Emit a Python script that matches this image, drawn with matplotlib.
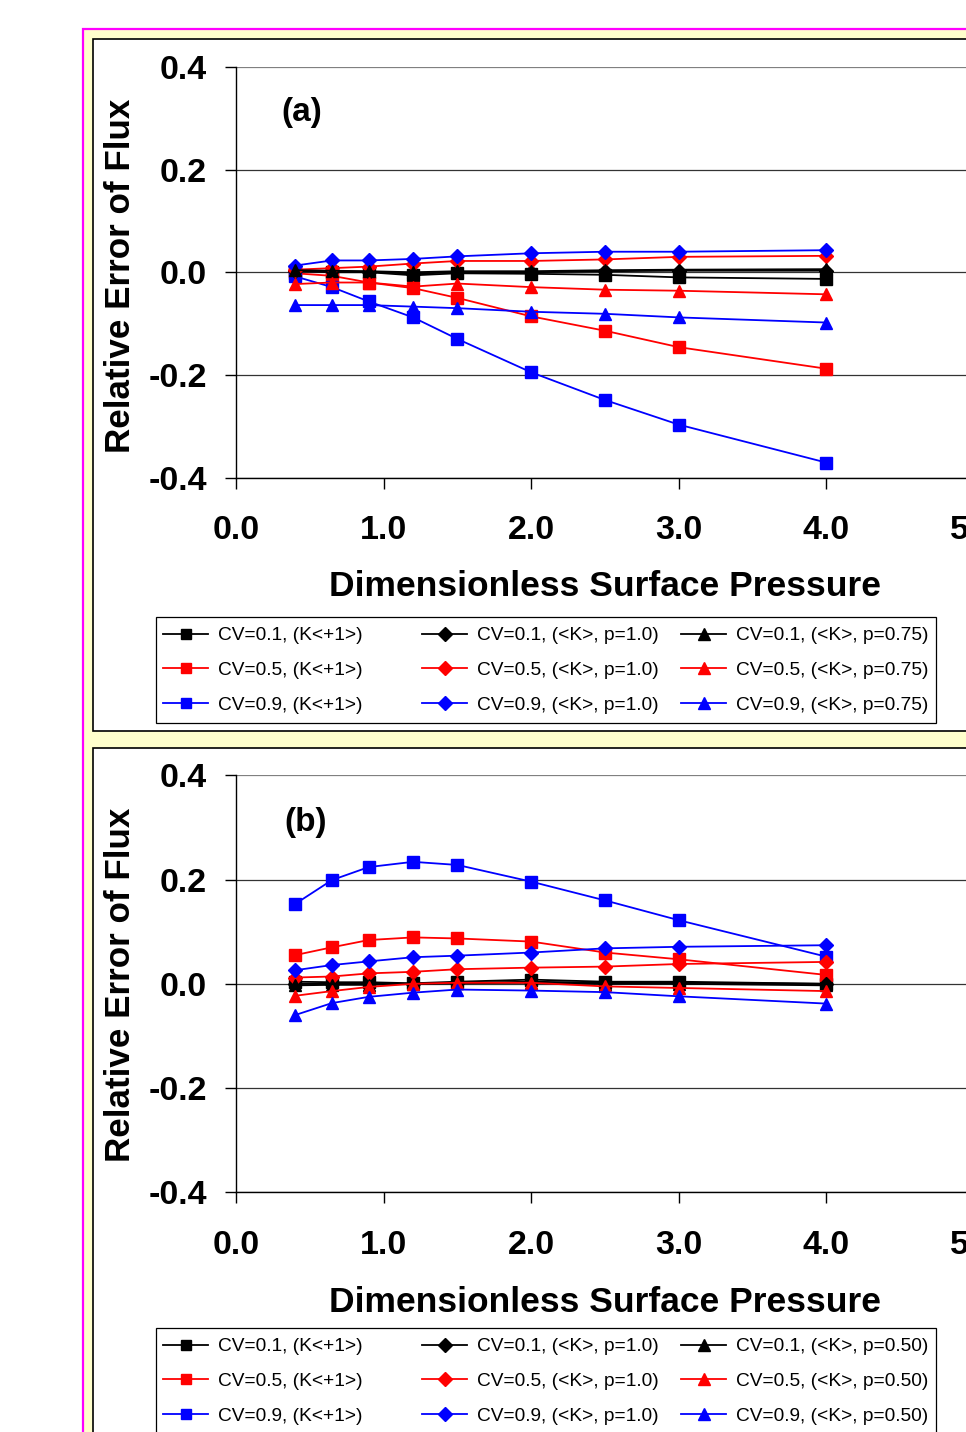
import matplotlib
matplotlib.use("Agg")
import matplotlib.pyplot as plt
from matplotlib.patches import Rectangle

plt.rcParams['font.family'] = ['Liberation Sans', 'DejaVu Sans']

# ---------------- data ----------------
pressure = [0.4, 0.65, 0.9, 1.2, 1.5, 2.0, 2.5, 3.0, 4.0]
x_ticks = [0.0, 1.0, 2.0, 3.0, 4.0, 5.0]
x_tick_labels = ["0.0", "1.0", "2.0", "3.0", "4.0", "5.0"]
y_ticks = [-0.4, -0.2, 0.0, 0.2, 0.4]
y_tick_labels = ["-0.4", "-0.2", "0.0", "0.2", "0.4"]

# Panel (a)
a_cv01_k1 = [0.002, 0.000, 0.000, -0.006, -0.002, -0.003, -0.005, -0.010, -0.013]
a_cv05_k1 = [-0.002, -0.007, -0.020, -0.031, -0.050, -0.086, -0.114, -0.146, -0.188]
a_cv09_k1 = [-0.008, -0.029, -0.057, -0.088, -0.130, -0.195, -0.249, -0.297, -0.371]
a_cv01_p10 = [0.003, 0.002, 0.001, -0.003, 0.000, 0.000, 0.002, 0.003, 0.003]
a_cv05_p10 = [0.005, 0.008, 0.011, 0.017, 0.022, 0.022, 0.025, 0.030, 0.032]
a_cv09_p10 = [0.013, 0.023, 0.023, 0.026, 0.031, 0.037, 0.040, 0.040, 0.043]
a_cv01_p075 = [0.004, 0.003, 0.002, 0.000, 0.002, 0.002, 0.004, 0.005, 0.006]
a_cv05_p075 = [-0.023, -0.020, -0.020, -0.028, -0.022, -0.029, -0.034, -0.036, -0.043]
a_cv09_p075 = [-0.064, -0.064, -0.064, -0.067, -0.070, -0.077, -0.081, -0.088, -0.098]

# Panel (b)
b_cv01_k1 = [0.004, 0.003, 0.003, 0.001, 0.004, 0.008, 0.004, 0.004, 0.000]
b_cv05_k1 = [0.055, 0.070, 0.084, 0.089, 0.087, 0.081, 0.060, 0.047, 0.017]
b_cv09_k1 = [0.153, 0.199, 0.224, 0.234, 0.228, 0.196, 0.160, 0.122, 0.052]
b_cv01_p10 = [0.000, 0.000, 0.001, 0.000, 0.002, 0.004, 0.002, 0.002, 0.000]
b_cv05_p10 = [0.012, 0.014, 0.020, 0.023, 0.028, 0.031, 0.033, 0.038, 0.042]
b_cv09_p10 = [0.026, 0.036, 0.043, 0.051, 0.054, 0.060, 0.068, 0.071, 0.074]
b_cv01_p050 = [-0.003, -0.002, -0.002, 0.000, 0.001, 0.002, 0.000, 0.000, -0.003]
b_cv05_p050 = [-0.023, -0.014, -0.006, 0.000, 0.002, 0.002, -0.005, -0.008, -0.014]
b_cv09_p050 = [-0.060, -0.037, -0.025, -0.017, -0.011, -0.013, -0.016, -0.024, -0.038]

labels_a = ["CV=0.1, (K<+1>)", "CV=0.5, (K<+1>)", "CV=0.9, (K<+1>)",
            "CV=0.1, (<K>, p=1.0)", "CV=0.5, (<K>, p=1.0)", "CV=0.9, (<K>, p=1.0)",
            "CV=0.1, (<K>, p=0.75)", "CV=0.5, (<K>, p=0.75)", "CV=0.9, (<K>, p=0.75)"]
labels_b = ["CV=0.1, (K<+1>)", "CV=0.5, (K<+1>)", "CV=0.9, (K<+1>)",
            "CV=0.1, (<K>, p=1.0)", "CV=0.5, (<K>, p=1.0)", "CV=0.9, (<K>, p=1.0)",
            "CV=0.1, (<K>, p=0.50)", "CV=0.5, (<K>, p=0.50)", "CV=0.9, (<K>, p=0.50)"]

series_a = [a_cv01_k1, a_cv05_k1, a_cv09_k1, a_cv01_p10, a_cv05_p10, a_cv09_p10,
            a_cv01_p075, a_cv05_p075, a_cv09_p075]
series_b = [b_cv01_k1, b_cv05_k1, b_cv09_k1, b_cv01_p10, b_cv05_p10, b_cv09_p10,
            b_cv01_p050, b_cv05_p050, b_cv09_p050]

colors = ["#000000", "#FF0000", "#0000FF"] * 3
markers = ["s"] * 3 + ["D"] * 3 + ["^"] * 3
msizes = [8.0] * 3 + [7.5] * 3 + [9.0] * 3

# ---------------- figure ----------------
W, H = 966, 1432
fig = plt.figure(figsize=(W / 100, H / 100), dpi=100)

def fx(px):
    return px / W

def fy(py):
    return 1 - py / H

# background decorations in pixel coordinates
bg = fig.add_axes([0, 0, 1, 1], zorder=-10)
bg.set_xlim(0, W)
bg.set_ylim(H, 0)
bg.axis("off")
bg.add_patch(Rectangle((82.5, 28.5), 1000, 1500, facecolor="#FFFFCC",
                       edgecolor="#FF00FF", lw=1.6))
bg.add_patch(Rectangle((92.5, 38.5), 1000, 692, facecolor="white",
                       edgecolor="black", lw=1.2))
bg.add_patch(Rectangle((92.5, 747.5), 1000, 800, facecolor="white",
                       edgecolor="black", lw=1.2))
# legend frames
bg.add_patch(Rectangle((155.5, 616.5), 780, 106, facecolor="white",
                       edgecolor="black", lw=0.9, zorder=5))
bg.add_patch(Rectangle((155.5, 1327.5), 780, 110, facecolor="white",
                       edgecolor="black", lw=0.9, zorder=5))

panels = [
    dict(series=series_a, labels=labels_a, top=67.0, bottom=477.5, tag="(a)",
         tag_xy=(302, 112), xlab_y=586, ylab_y=276, leg_top=627),
    dict(series=series_b, labels=labels_b, top=775.3, bottom=1192.3, tag="(b)",
         tag_xy=(306, 822), xlab_y=1302, ylab_y=985, leg_top=1338),
]

x_left_px, x_right_px = 236.0, 974.0

for p in panels:
    ax = fig.add_axes([fx(x_left_px), fy(p["bottom"]),
                       (x_right_px - x_left_px) / W, (p["bottom"] - p["top"]) / H])
    ax.set_facecolor("none")
    handles = []
    for vals, c, m, ms, lab in zip(p["series"], colors, markers, msizes, p["labels"]):
        h, = ax.plot(pressure, vals, color=c, marker=m, markersize=ms, lw=1.3,
                     markeredgecolor=c, markerfacecolor=c, label=lab, clip_on=False)
        handles.append(h)
    ax.set_xlim(0, 5)
    ax.set_ylim(-0.4, 0.4)
    ax.set_xticks(x_ticks)
    ax.set_xticklabels(x_tick_labels)
    ax.set_yticks(y_ticks)
    ax.set_yticklabels(y_tick_labels)
    for s in ["top", "right"]:
        ax.spines[s].set_visible(False)
    ax.spines["left"].set_linewidth(1.0)
    ax.spines["bottom"].set_linewidth(1.0)
    ax.yaxis.grid(True, color="#333333", lw=0.9)
    ax.set_axisbelow(True)
    ax.get_ygridlines()[-1].set_color("#808080")
    ax.tick_params(axis="x", direction="out", length=8, width=1.0, pad=19,
                   labelsize=24.5)
    ax.tick_params(axis="y", direction="out", length=8, width=1.0, pad=13,
                   labelsize=24.5)
    for t in ax.get_xticklabels() + ax.get_yticklabels():
        t.set_fontweight("bold")

    fig.text(fx(605), fy(p["xlab_y"]), "Dimensionless Surface Pressure",
             ha="center", va="center", fontsize=25.5, fontweight="bold")
    fig.text(fx(120), fy(p["ylab_y"]), "Relative Error of Flux", rotation=90,
             ha="center", va="center", fontsize=25.2, fontweight="bold")
    fig.text(fx(p["tag_xy"][0]), fy(p["tag_xy"][1]), p["tag"], ha="center",
             va="center", fontsize=24, fontweight="bold")

    col_x = [163, 422, 681]
    for ci in range(3):
        leg = fig.legend(handles=handles[ci * 3:(ci + 1) * 3],
                         loc="upper left",
                         bbox_to_anchor=(fx(col_x[ci]), fy(p["leg_top"])),
                         frameon=False, fontsize=13.8, handlelength=2.35,
                         handletextpad=0.5, labelspacing=0.9, borderpad=0,
                         borderaxespad=0, markerscale=0.9)
        leg.set_zorder(20)

fig.savefig("out.png", dpi=100)
